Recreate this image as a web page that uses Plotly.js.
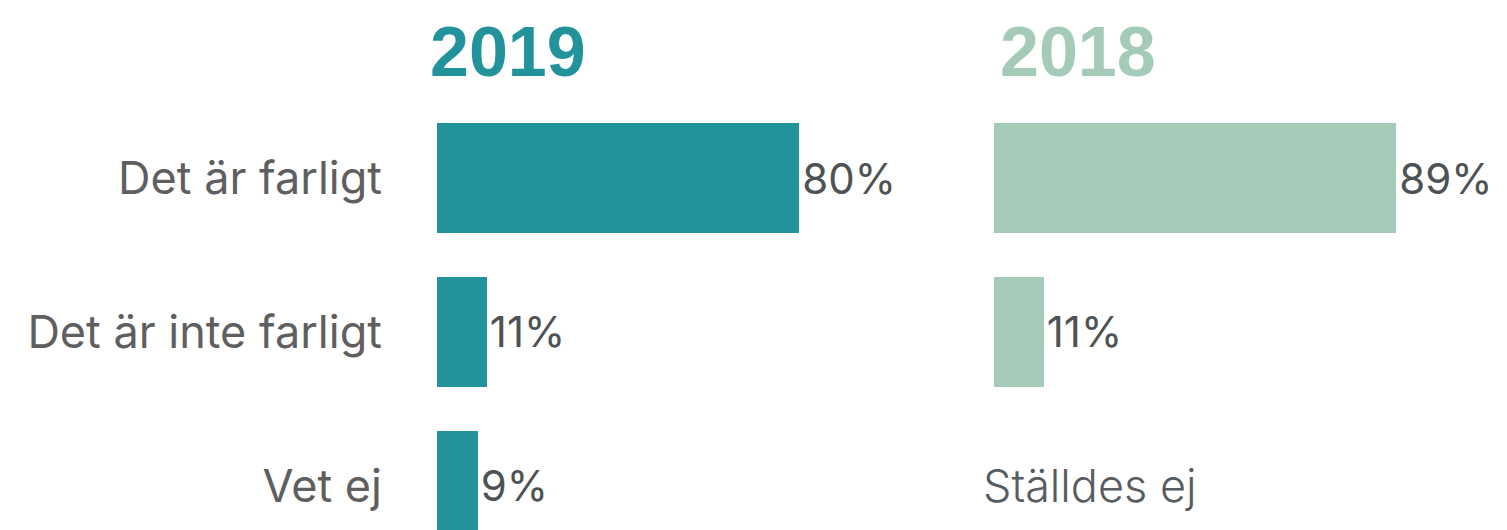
<!DOCTYPE html>
<html><head><meta charset="utf-8">
<script src="https://cdn.plot.ly/plotly-3.0.1.min.js"></script>
<style>html,body{margin:0;padding:0;background:#fff}#c{width:1507px;height:530px}</style>
</head><body><div id="c"></div>
<script>
const categories = ["Det är farligt", "Det är inte farligt", "Vet ej"];
const values2019 = [80, 11, 9];
const categories2018 = ["Det är farligt", "Det är inte farligt"];
const values2018 = [89, 11];
const panelTitles = ["2019", "2018"];
const notAsked = "Ställdes ej";

const teal = "#23939B", mint = "#A3CBB8", textGray = "#5f5f5f", valGray = "#4d5255";
const W = 1507, H = 530;

const traces = [
  {type:"bar", orientation:"h", y:categories, x:values2019, xaxis:"x", yaxis:"y",
   marker:{color:teal}, width:0.714, text:values2019.map(v=>v+"%"), textposition:"outside",
   cliponaxis:false, outsidetextfont:{family:"Inter", size:42, color:valGray}, hoverinfo:"skip"},
  {type:"bar", orientation:"h", y:categories2018, x:values2018, xaxis:"x2", yaxis:"y2",
   marker:{color:mint}, width:0.714, text:values2018.map(v=>v+"%"), textposition:"outside",
   cliponaxis:false, outsidetextfont:{family:"Inter", size:42, color:valGray}, hoverinfo:"skip"}
];

const yr = [2.286, -1.156];
const layout = {
  width:W, height:H, margin:{l:0,r:0,t:0,b:0}, paper_bgcolor:"#fff", plot_bgcolor:"#fff",
  showlegend:false, bargap:0,
  xaxis:{domain:[437/W, 960/W], range:[0,115.5], visible:false, fixedrange:true},
  xaxis2:{domain:[994/W, 1], range:[0,113.5], visible:false, fixedrange:true},
  yaxis:{anchor:"x", type:"category", categoryarray:categories, range:yr, showgrid:false,
    zeroline:false, showline:false, ticks:"outside", ticklen:45, tickcolor:"rgba(0,0,0,0)",
    tickfont:{family:"Inter", size:45, color:textGray}, automargin:false},
  yaxis2:{anchor:"x2", type:"category", categoryarray:categories, range:yr, showticklabels:false,
    showgrid:false, zeroline:false, showline:false, automargin:false},
  annotations:[
    {text:panelTitles[0], xref:"paper", yref:"paper", x:428/W, y:1-52/H, xanchor:"left", yanchor:"middle",
     showarrow:false, font:{family:"Liberation Sans", size:70, color:teal, weight:700}},
    {text:panelTitles[1], xref:"paper", yref:"paper", x:998/W, y:1-52/H, xanchor:"left", yanchor:"middle",
     showarrow:false, font:{family:"Liberation Sans", size:70, color:mint, weight:700}},
    {text:notAsked, xref:"paper", yref:"y2", x:981/W, y:categories[2], xanchor:"left", yanchor:"middle",
     showarrow:false, font:{family:"Inter", size:45, color:"#575c60", weight:300}}
  ]
};
Plotly.newPlot("c", traces, layout, {staticPlot:true, displayModeBar:false});
</script></body></html>
